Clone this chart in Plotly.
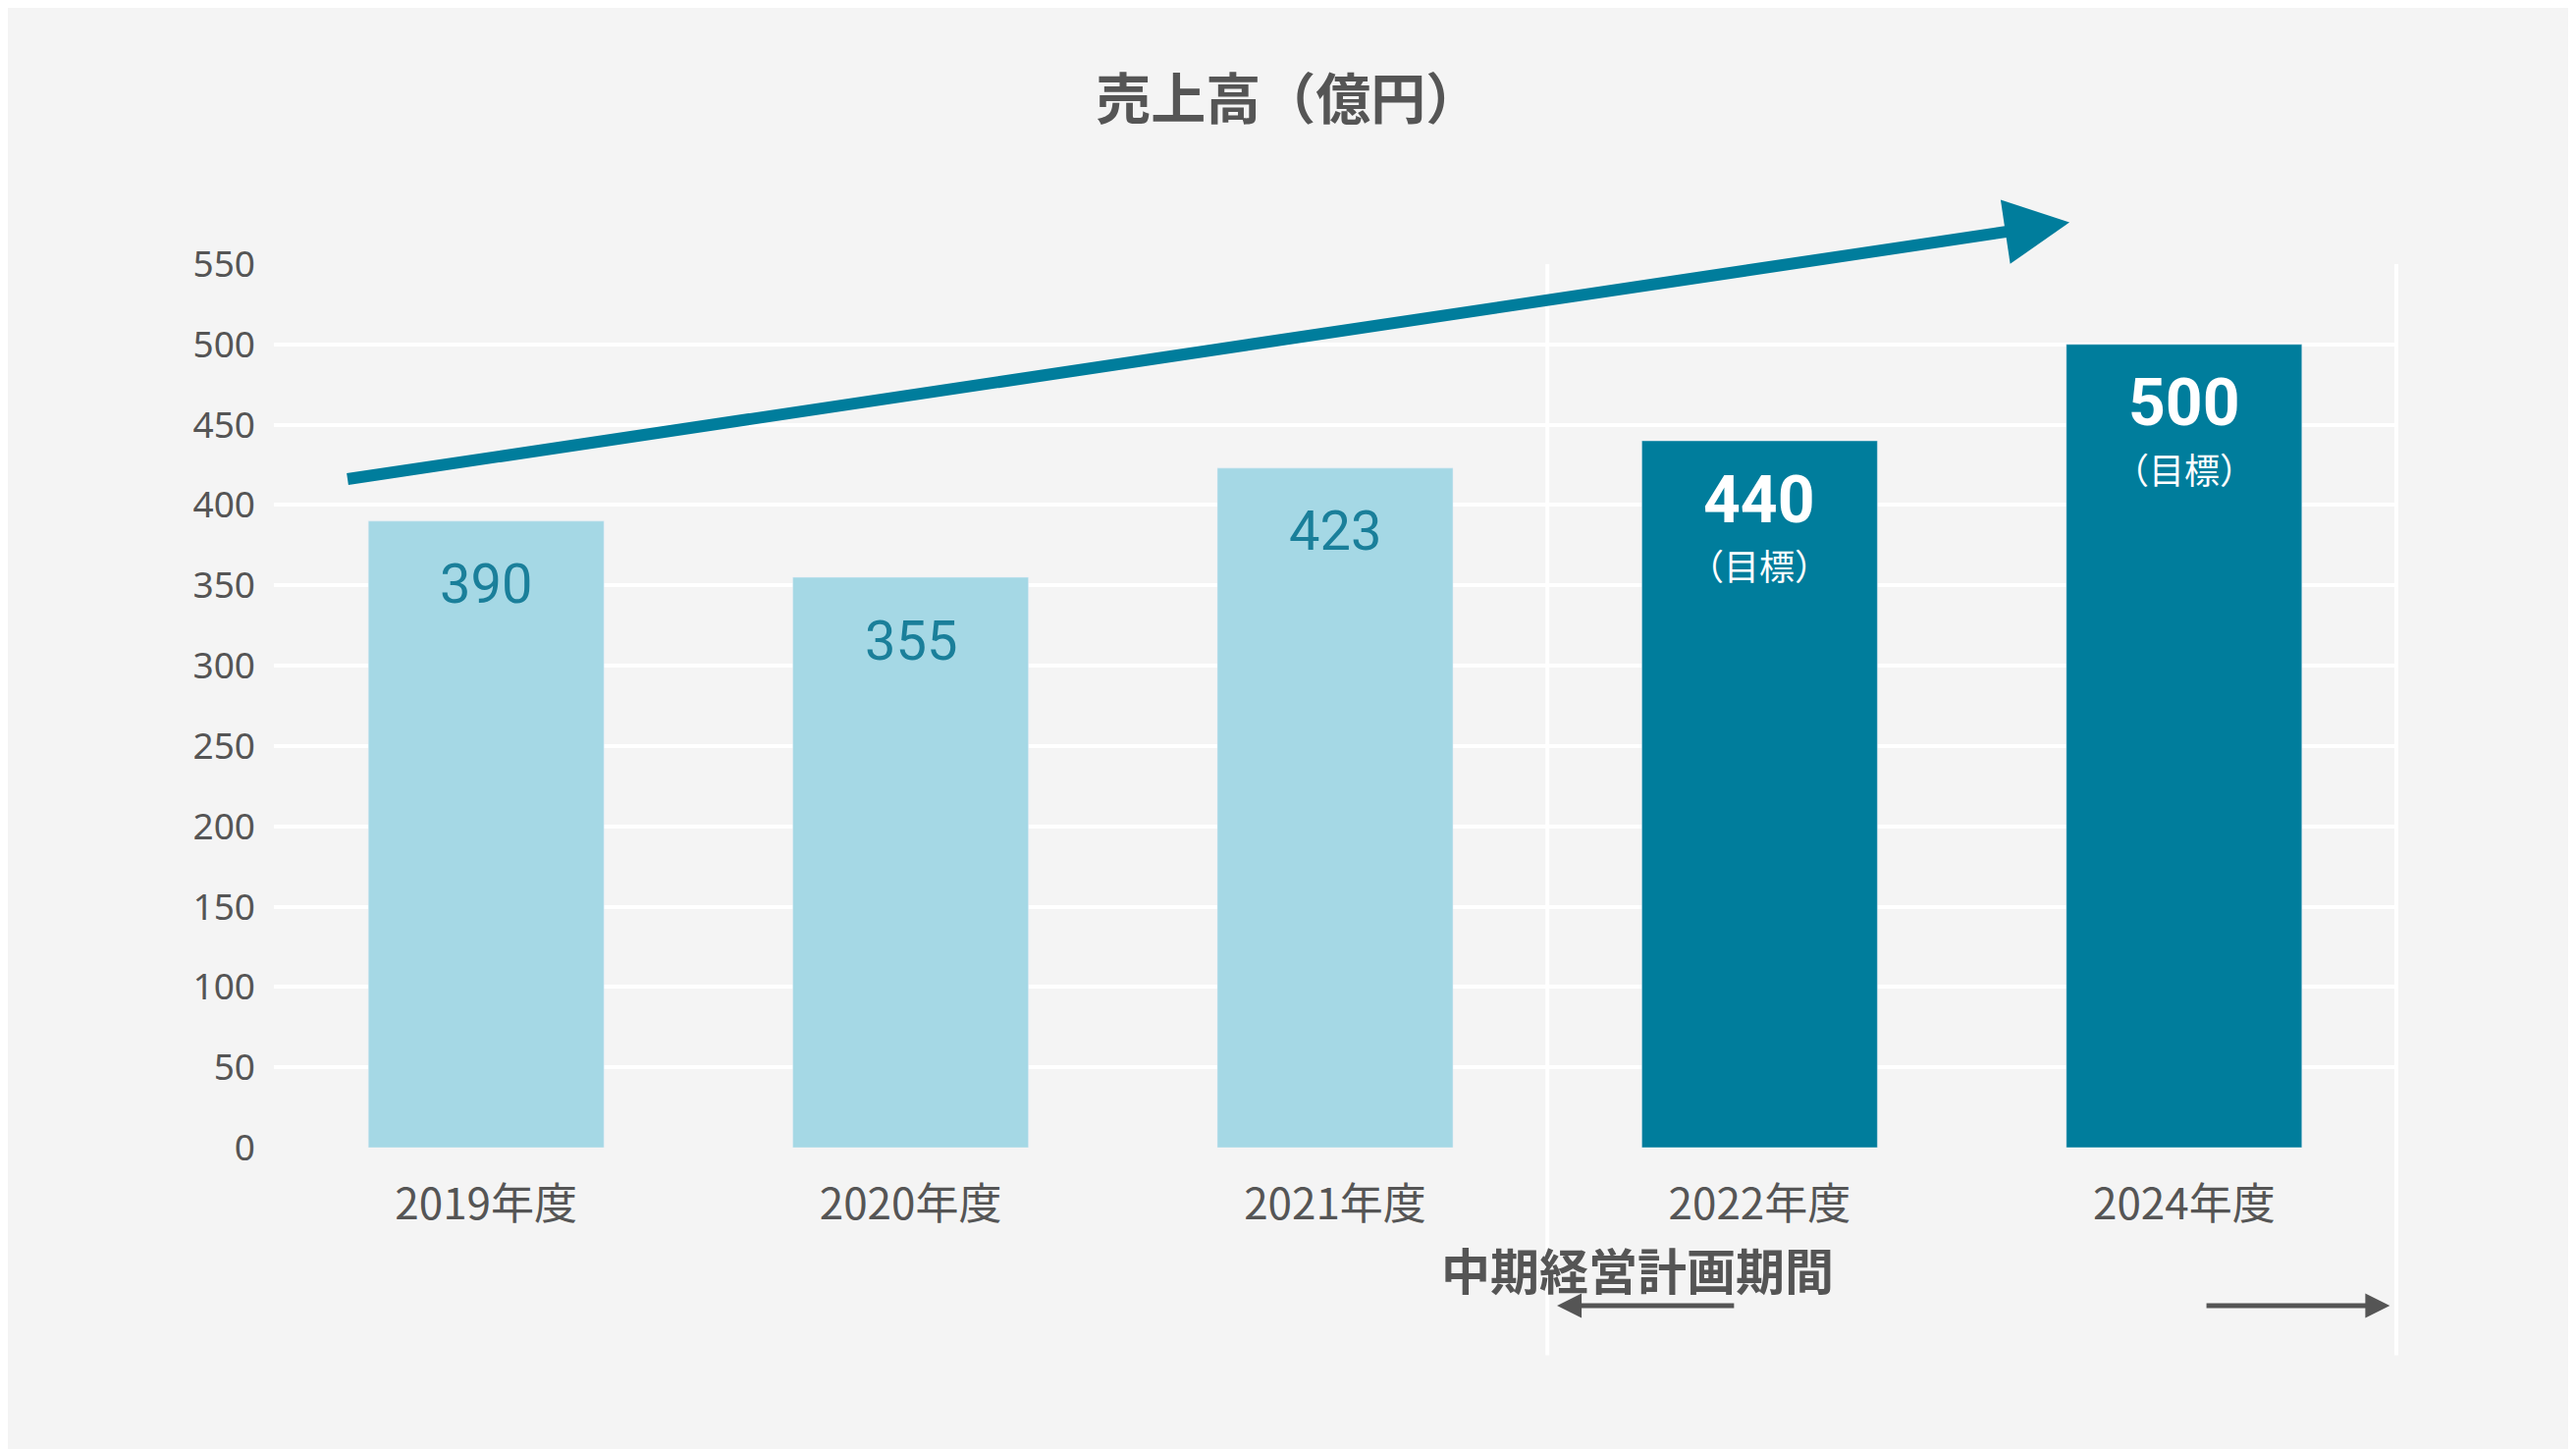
import plotly.graph_objects as go

years = ["2019年度", "2020年度", "2021年度", "2022年度", "2024年度"]
sales = [390, 355, 423, 440, 500]
is_target = [False, False, False, True, True]
y_ticks = list(range(0, 551, 50))

light = "#a5d8e5"
dark = "#007d9c"
grey = "#555555"
font = "Noto Sans CJK JP"

colors = [dark if t else light for t in is_target]

fig = go.Figure()
fig.add_trace(go.Bar(x=years, y=sales, marker_color=colors, width=0.555,
                     hoverinfo="skip"))

# value labels inside bars
for yr, v, t in zip(years, sales, is_target):
    if t:
        fig.add_annotation(x=yr, y=v - 12, yref="y", yanchor="top", showarrow=False,
                           text=f"<b>{v}</b>", font=dict(family="Roboto", size=66, color="white"))
        fig.add_annotation(x=yr, y=v - 60, yref="y", yanchor="top", showarrow=False,
                           text="（目標）", font=dict(family=font, size=36, color="white"))
    else:
        fig.add_annotation(x=yr, y=v - 18, yref="y", yanchor="top", showarrow=False,
                           text=str(v), font=dict(family="Roboto", size=56, color="#1a7f9a"))

# growth arrow
fig.add_annotation(x=3.73, y=576, ax=-0.33, ay=416, xref="x", yref="y",
                   axref="x", ayref="y", showarrow=True, arrowhead=2,
                   arrowsize=1.1, arrowwidth=12, arrowcolor=dark, text="")

# plan period separators
for xv in [2.5, 4.5]:
    fig.add_shape(type="line", xref="x", yref="paper", x0=xv, x1=xv, y0=-0.235, y1=1.0,
                  line=dict(color="white", width=4))

# plan period label with arrows
fig.add_annotation(x=0.735, y=-0.179, xref="paper", yref="paper", showarrow=False,
                   text="<b>中期経営計画期間</b>", font=dict(family=font, size=50, color=grey))
for tip, tail in [(0.604, 0.688), (0.996, 0.909)]:
    fig.add_annotation(x=tip, y=-0.179, ax=tail, ay=-0.179, xref="x domain", yref="y domain",
                       axref="x domain", ayref="y domain", showarrow=True, arrowhead=2,
                       arrowwidth=5, arrowcolor=grey, text="")

fig.update_layout(
    width=2624, height=1476,
    paper_bgcolor="#f4f4f4", plot_bgcolor="#f4f4f4",
    margin=dict(l=271, r=189, t=261, b=315),
    showlegend=False, bargap=0.445,
    title=dict(text="<b>売上高（億円）</b>", x=0.497, xanchor="center", y=0.937,
               yanchor="middle", font=dict(family=font, size=56, color=grey)),
    xaxis=dict(tickfont=dict(family=font, size=44, color=grey), showgrid=False,
               ticklabelstandoff=28),
    yaxis=dict(range=[0, 550], tickvals=y_ticks, gridcolor="white", gridwidth=4,
               zeroline=False, tickfont=dict(family="Noto Sans", size=37, color=grey),
               ticklabelstandoff=18),
)

fig.write_html("out.html")
